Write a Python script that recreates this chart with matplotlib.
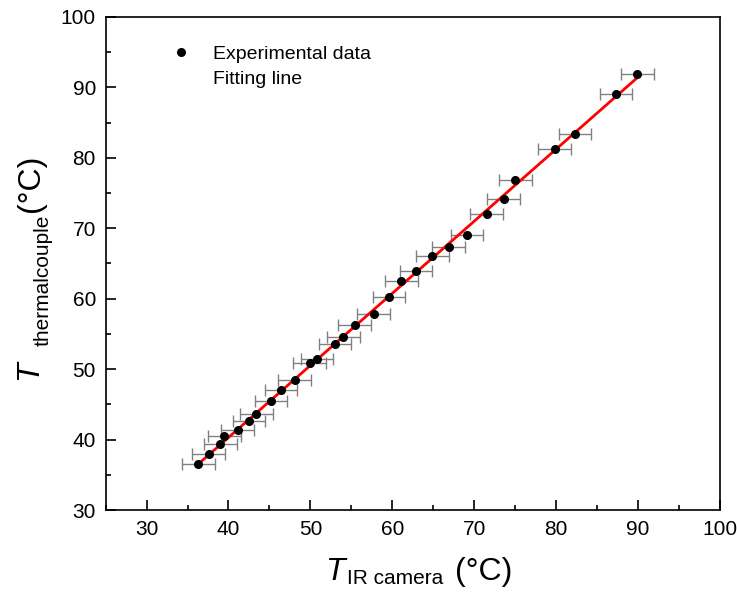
import numpy as np
import matplotlib
matplotlib.use("Agg")
import matplotlib.pyplot as plt
from matplotlib.lines import Line2D
from matplotlib.ticker import MultipleLocator

plt.rcParams['font.family'] = ['Liberation Sans', 'DejaVu Sans']

# IR camera temperature vs thermocouple temperature (deg C)
t_ir = [36.3, 37.6, 39.0, 39.5, 41.1, 42.5, 43.4, 45.2, 46.4, 48.1,
        49.9, 50.8, 53.0, 54.0, 55.4, 57.7, 59.6, 61.1, 62.9, 64.9,
        66.9, 69.1, 71.5, 73.6, 75.0, 79.8, 82.3, 87.3, 89.9]
t_tc = [36.5, 37.9, 39.4, 40.5, 41.3, 42.7, 43.6, 45.5, 47.0, 48.4,
        50.9, 51.4, 53.5, 54.5, 56.2, 57.9, 60.3, 62.5, 63.9, 66.1,
        67.3, 69.0, 72.0, 74.1, 76.8, 81.3, 83.4, 89.1, 91.9]
x_err = 2.0

x = np.array(t_ir)
y = np.array(t_tc)
k, b = np.polyfit(x, y, 1)
xf = np.array([x.min(), x.max()])

W, H = 737, 592
fig = plt.figure(figsize=(W / 100, H / 100), dpi=100)
ax = fig.add_axes([0.1433, 0.1385, 0.8337, 0.8328])

ax.errorbar(x, y, xerr=x_err, fmt='none', ecolor='#808080', elinewidth=1.0,
            capsize=4, capthick=1.0, zorder=2)
ax.plot(xf, k * xf + b, color='red', lw=2.0, zorder=3)
ax.plot(x, y, 'o', color='black', ms=5.5, zorder=4)

ax.set_xlim(25, 100)
ax.set_ylim(30, 100)
ax.xaxis.set_minor_locator(MultipleLocator(5))
ax.yaxis.set_major_locator(MultipleLocator(10))
ax.yaxis.set_minor_locator(MultipleLocator(5))
ax.set_xticks(range(30, 101, 10))
ax.tick_params(which='major', direction='in', length=7, width=1.2, labelsize=15, pad=7)
ax.tick_params(which='minor', direction='in', length=3.5, width=1.2)
for s in ax.spines.values():
    s.set_linewidth(1.2)

# axis labels: italic T, small subscript, then unit
def px(xp, yp):
    return xp / W, 1 - yp / H

fig.text(*px(325, 580), 'T', style='italic', fontsize=23, ha='left', va='baseline')
fig.text(*px(347, 584), 'IR camera', fontsize=15, ha='left', va='baseline')
fig.text(*px(455, 580), '(°C)', fontsize=23, ha='left', va='baseline')

rot = dict(rotation=90, rotation_mode='anchor', ha='left', va='baseline')
fig.text(*px(37, 380), 'T', style='italic', fontsize=23, **rot)
fig.text(*px(49, 346), 'thermalcouple', fontsize=15, **rot)
fig.text(*px(39, 212), '(°C)', fontsize=23, **rot)

h1 = Line2D([], [], marker='o', color='black', ls='none', ms=5.5)
h2 = Line2D([], [], color='none')
ax.legend([h1, h2], ['Experimental data', 'Fitting line'], loc='upper left',
          bbox_to_anchor=(166 / W, 1 - 45 / H), bbox_transform=fig.transFigure,
          frameon=False, fontsize=14, handlelength=1.5, handletextpad=0.9,
          labelspacing=0.4, borderpad=0, borderaxespad=0)

fig.savefig('out.png', dpi=100)
